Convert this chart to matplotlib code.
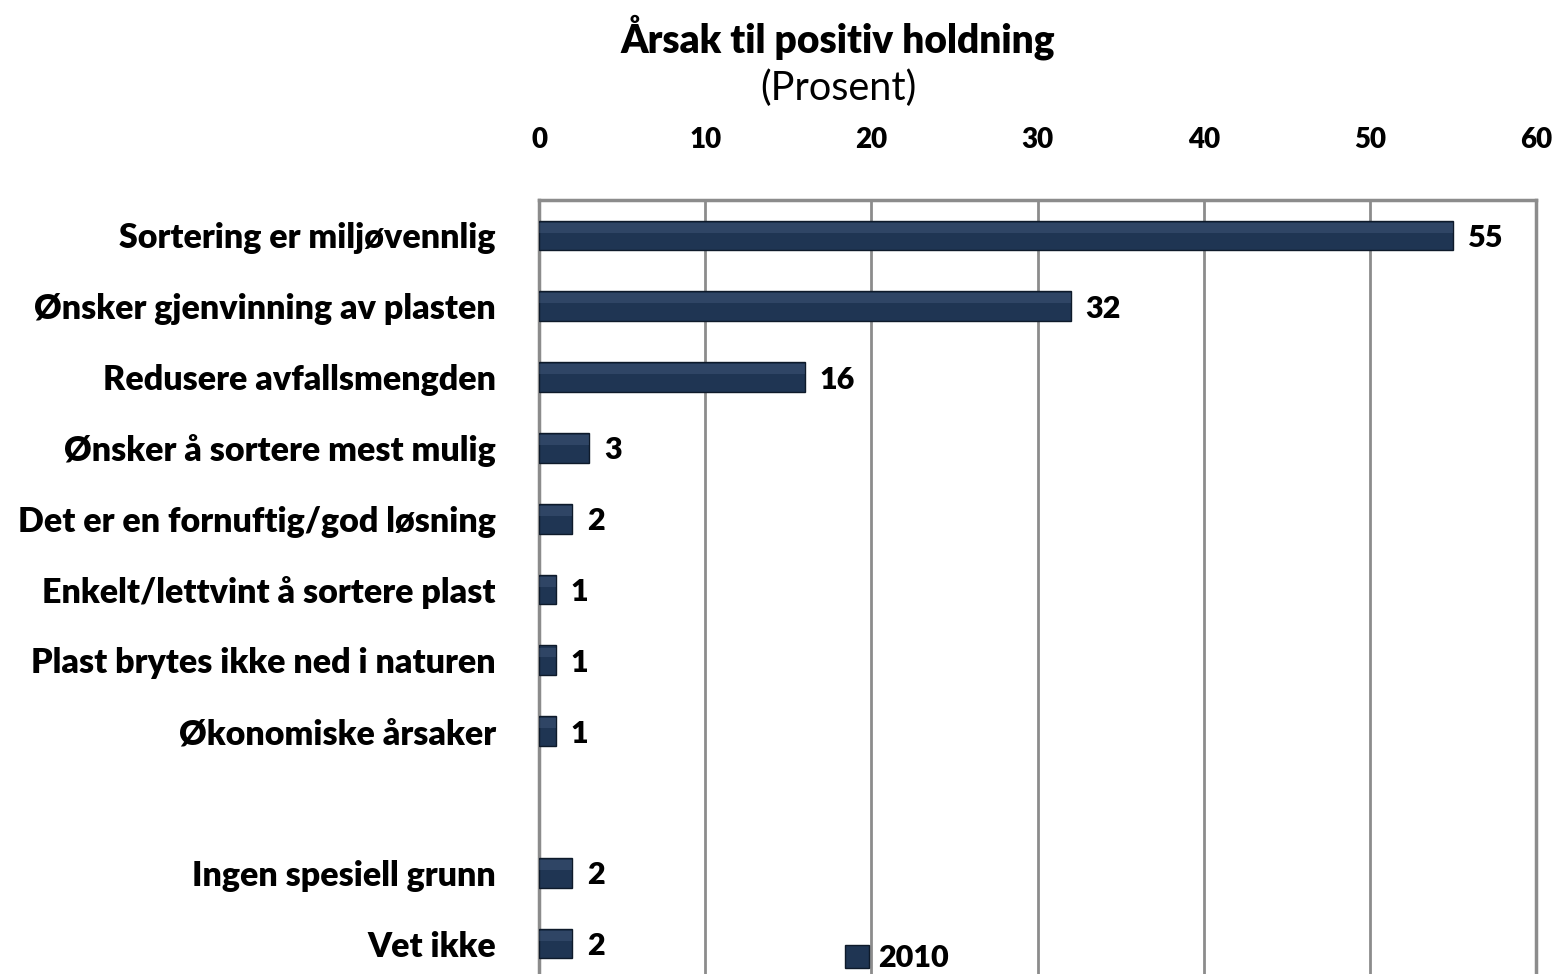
import matplotlib
matplotlib.use('Agg')
import matplotlib.pyplot as plt
import matplotlib.patches as mpatches
import numpy as np

plt.rcParams['font.family'] = ['Lato', 'DejaVu Sans']

# Data
reasons = [
    'Sortering er miljøvennlig',
    'Ønsker gjenvinning av plasten',
    'Redusere avfallsmengden',
    'Ønsker å sortere mest mulig',
    'Det er en fornuftig/god løsning',
    'Enkelt/lettvint å sortere plast',
    'Plast brytes ikke ned i naturen',
    'Økonomiske årsaker',
]
reason_vals = [55, 32, 16, 3, 2, 1, 1, 1]
other = ['Ingen spesiell grunn', 'Vet ikke']
other_vals = [2, 2]
x_ticks = [0, 10, 20, 30, 40, 50, 60]
series_name = '2010'

BAR = '#1f3553'
GRID = '#8c8c8c'
W = 'heavy'

labels = reasons + other
vals = reason_vals + other_vals
# one empty slot between the two groups
ypos = list(range(len(reasons))) + [len(reasons) + 1 + i for i in range(len(other))]

fig = plt.figure(figsize=(15.57, 9.74), dpi=100)
ax = fig.add_axes([539 / 1557, 1 - 979 / 974, (1536 - 539) / 1557, (979 - 200) / 974])

ax.barh(ypos, vals, height=0.42, color=BAR, edgecolor='#0e1a2a', lw=1, zorder=3)
# soft highlight near the top edge to hint the bevel
ax.barh([y - 0.11 for y in ypos], vals, height=0.14, color='#5a7294', lw=0, alpha=0.28, zorder=4)

for y, v in zip(ypos, vals):
    ax.text(v + 0.9, y, f'{v}', va='center_baseline', ha='left', fontsize=22, fontweight=W, zorder=5)

ax.set_xlim(0, 60)
ax.set_ylim(len(labels) + 0.5, -0.5)
ax.set_xticks(x_ticks)
ax.set_yticks(ypos)
ax.set_yticklabels(labels, fontsize=24.5, fontweight=W)
ax.xaxis.tick_top()
ax.tick_params(axis='x', length=0, pad=34, labelsize=20)
ax.tick_params(axis='y', length=0, pad=31)
for lab in ax.get_xticklabels():
    lab.set_fontweight(W)

ax.grid(axis='x', color=GRID, lw=2, zorder=0)
ax.set_axisbelow(True)
for s in ax.spines.values():
    s.set_color(GRID)
    s.set_linewidth(2.5)

fig.text(838 / 1557, 1 - 37 / 974, 'Årsak til positiv holdning', ha='center', va='center',
         fontsize=28, fontweight=W)
fig.text(838 / 1557, 1 - 88 / 974, '(Prosent)', ha='center', va='center', fontsize=28.5)

handle = mpatches.Patch(facecolor=BAR, edgecolor='#0e1a2a', label=series_name)
leg = fig.legend(handles=[handle], loc='center', bbox_to_anchor=(897 / 1557, 1 - 958 / 974),
                 frameon=False, prop={'size': 22, 'weight': W},
                 handlelength=0.8, handleheight=0.8, handletextpad=0.3, borderpad=0)

fig.savefig('out.png', dpi=100)
